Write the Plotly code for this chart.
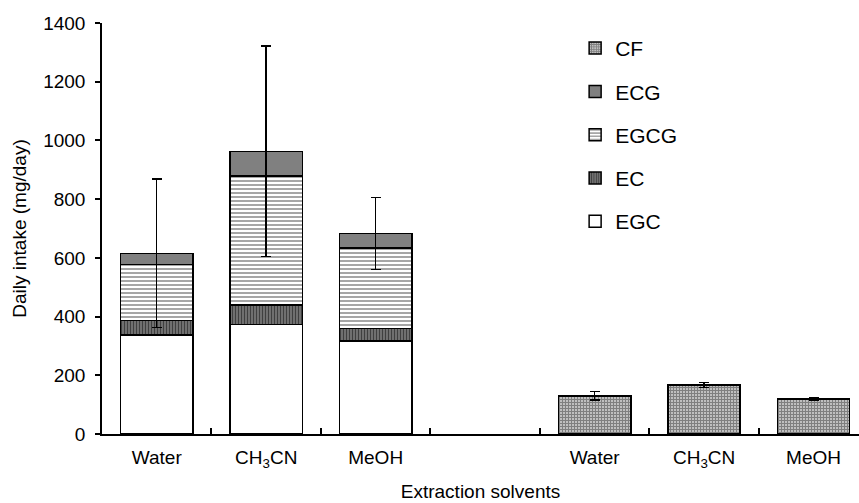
import plotly.graph_objects as go

# Extraction solvents, shown twice: catechins (stacked) and caffeine (CF)
solvents = ["Water", "CH<sub>3</sub>CN", "MeOH"]
catechin_pos = [0, 1, 2]
cf_pos = [4, 5, 6]

# Daily intake (mg/day)
EGC = [337, 373, 317]
EC = [49, 66, 43]
EGCG = [192, 440, 274]
ECG = [37, 84, 49]
catechin_err = [253, 359, 122]

CF = [130, 167, 119]
cf_err = [14, 8, 3]

tick_vals = catechin_pos + cf_pos
tick_text = solvents + solvents
divider_ticks = [0.5, 1.5, 2.5, 3.5, 4.5, 5.5]

FONT = "Liberation Sans, Arial, Helvetica, sans-serif"
BAR_W = 0.66
edge = dict(color="black", width=1.5)

fig = go.Figure()

fig.add_trace(go.Bar(
    name="EGC", x=catechin_pos, y=EGC, width=BAR_W, legendgroup="EGC",
    legendrank=5,
    marker=dict(color="white", line=edge),
))
fig.add_trace(go.Bar(
    name="EC", x=catechin_pos, y=EC, width=BAR_W, legendgroup="EC",
    legendrank=4,
    marker=dict(color="#808080", line=edge,
                pattern=dict(shape="|", fgcolor="black", bgcolor="#808080",
                             size=3, solidity=0.5)),
))
fig.add_trace(go.Bar(
    name="EGCG", x=catechin_pos, y=EGCG, width=BAR_W, legendgroup="EGCG",
    legendrank=3,
    marker=dict(color="white", line=edge,
                pattern=dict(shape="-", fgcolor="black", bgcolor="white",
                             size=4, solidity=0.35)),
))
fig.add_trace(go.Bar(
    name="ECG", x=catechin_pos, y=ECG, width=BAR_W, legendgroup="ECG",
    legendrank=2,
    marker=dict(color="#808080", line=edge),
    error_y=dict(type="data", array=catechin_err, visible=True,
                 color="black", thickness=1.5, width=5),
))
fig.add_trace(go.Bar(
    name="CF", x=cf_pos, y=CF, width=BAR_W, legendgroup="CF",
    legendrank=1,
    marker=dict(color="white", line=edge,
                pattern=dict(shape="+", fgcolor="black", bgcolor="white",
                             size=3, solidity=0.8)),
    error_y=dict(type="data", array=cf_err, visible=True,
                 color="black", thickness=1.5, width=5),
))

# Helper trace so the divider-tick axis is drawn
fig.add_trace(go.Scatter(x=[0], y=[0], xaxis="x2", mode="markers",
                         marker=dict(opacity=0), showlegend=False,
                         hoverinfo="skip"))

fig.update_layout(
    width=859, height=503,
    margin=dict(l=102, r=0, t=23, b=69),
    paper_bgcolor="white", plot_bgcolor="white",
    barmode="stack",
    font=dict(family=FONT, size=19, color="black"),
    showlegend=True,
    legend=dict(
        x=0.625, y=0.988, xanchor="left", yanchor="top",
        traceorder="grouped", tracegroupgap=13,
        font=dict(size=21), bgcolor="rgba(0,0,0,0)",
    ),
    xaxis=dict(
        range=[-0.5, 6.415], tickmode="array", tickvals=tick_vals,
        ticktext=tick_text, ticks="", showline=True, linecolor="black",
        linewidth=1.5, showgrid=False, zeroline=False,
        tickfont=dict(size=19),
        title=dict(text="Extraction solvents", standoff=15,
                   font=dict(size=19)),
        ticklabelstandoff=5,
    ),
    xaxis2=dict(
        range=[-0.5, 6.415], overlaying="x", anchor="y", side="bottom",
        tickmode="array", tickvals=divider_ticks, ticks="inside",
        ticklen=6, tickwidth=1.5, tickcolor="black", showticklabels=False,
        showline=False, showgrid=False, zeroline=False,
    ),
    yaxis=dict(
        range=[0, 1400], tickmode="array",
        tickvals=[0, 200, 400, 600, 800, 1000, 1200, 1400],
        ticks="outside", ticklen=5, tickwidth=1.5, tickcolor="black",
        showline=True, linecolor="black", linewidth=1.5,
        showgrid=False, zeroline=False,
        tickfont=dict(size=19),
        title=dict(text="Daily intake (mg/day)", standoff=12,
                   font=dict(size=19)),
        ticklabelstandoff=6,
    ),
)

fig.write_html("out.html")
